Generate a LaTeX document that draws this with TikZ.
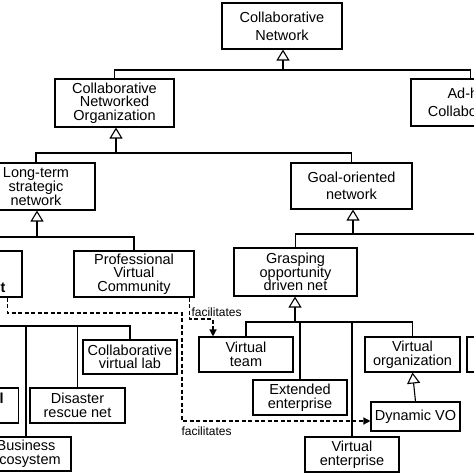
\documentclass[tikz,border=0pt]{standalone}
\usepackage{fontspec}
\setmainfont{Liberation Sans}
\usetikzlibrary{arrows.meta}
\begin{document}
\begin{tikzpicture}[x=1pt,y=-1pt,line width=1.1pt,
	box/.style={draw,align=center,inner sep=0pt,font=\fontsize{14.5}{13.6}\selectfont},
	gen/.style={-{Triangle[open,width=13pt,length=11pt]}},
	fac/.style={dash pattern=on 4pt off 2.5pt,line width=1.3pt,-{Triangle[width=7pt,length=7pt]}},
	lbl/.style={anchor=west,inner sep=0pt,font=\fontsize{12}{12}\selectfont}]% hình ảnh bị cắt ở hai bên
	\useasboundingbox (0,0) rectangle (474,474);
	\clip (0,0) rectangle (474,474);
	% các hộp
	\node[box,minimum width=120pt,minimum height=46pt] (cn) at (282,26) {Collaborative\\[4.5pt]Network};
	\node[box,minimum width=119pt,minimum height=48pt] (cno) at (114.5,103) {Collaborative\\Networked\\Organization};
	\node[box,minimum width=119pt,minimum height=47pt] (adhoc) at (470.5,102.5) {Ad-hoc\\[5pt]Collaboration};
	\node[box,minimum width=118pt,minimum height=47pt] (lts) at (36,186.5) {Long-term\\strategic\\network};
	\node[box,minimum width=121pt,minimum height=46pt] (gon) at (351.5,186) {Goal-oriented\\[3.5pt]network};
	\node[box,minimum width=120pt,minimum height=46pt,font=\fontsize{14.5}{13.6}\selectfont\bfseries] (vbe) at (-38,274) {VO\\breeding\\environment};
	\node[box,minimum width=120pt,minimum height=46pt] (pvc) at (134,274) {Professional\\Virtual\\Community};
	\node[box,minimum width=123pt,minimum height=48pt] (gpd) at (295.5,272) {Grasping\\opportunity\\driven net};
	\node[box,minimum width=95pt,minimum height=35pt,font=\fontsize{14.5}{13.6}\selectfont\bfseries] (ind) at (-29,405.5) {Industrial\\district};
	\node[box,minimum width=95pt,minimum height=35pt] (drn) at (77.5,405.5) {Disaster\\rescue net};
	\node[box,minimum width=94pt,minimum height=34pt] (cvl) at (130,357) {Collaborative\\virtual lab};
	\node[box,minimum width=90pt,minimum height=34pt] (bes) at (26,454) {Business\\ecosystem};
	\node[box,minimum width=94pt,minimum height=35pt] (vt) at (246,354.5) {Virtual\\team};
	\node[box,minimum width=94pt,minimum height=35pt] (ee) at (300,397.5) {Extended\\enterprise};
	\node[box,minimum width=94pt,minimum height=35pt] (ve) at (352,454.5) {Virtual\\enterprise};
	\node[box,minimum width=95pt,minimum height=35pt] (vo) at (412.5,354.5) {Virtual\\organization};
	\node[box,minimum width=89pt,minimum height=29pt] (dvo) at (415.5,416.5) {Dynamic VO};
	\node[box,minimum width=94pt,minimum height=35pt] (sc) at (514,354.5) {};
	% các nhánh
	\coordinate (j0) at (283,70);
	\coordinate (j1) at (116,153);
	\coordinate (j2) at (37,237);
	\coordinate (j3) at (353,234);
	\coordinate (j4) at (295,322);
	\coordinate (j5) at (-38,326);
	\coordinate (cpd) at (560,248);
	\draw[gen] (j0) -- (j0 |- cn.south);
	\draw (cno.north) |- (j0) -| (adhoc.north);
	\draw[gen] (j1) -- (j1 |- cno.south);
	\draw (lts.north) |- (j1) -| (gon.north);
	\draw[gen] (j2) -- (j2 |- lts.south);
	\draw (vbe.north) |- (j2) -| (pvc.north);
	\draw[gen] (j3) -- (j3 |- gon.south);
	\draw (gpd.north) |- (j3) -| (cpd);
	\draw[gen] (j4) -- (j4 |- gpd.south);
	\draw (vt.north) |- (j4) -| (vo.north);
	\draw (ee.north) -- (ee.north |- j4);
	\draw (ve.north) -- (ve.north |- j4);
	\draw[gen] (j5) -- (vbe.south);
	\draw (ind.north) |- (j5) -| (cvl.north);
	\draw (bes.north) -- (bes.north |- j5);
	\draw (drn.north) -- (drn.north |- j5);
	\draw[gen] (dvo.north) -- (vo.south);
	% facilitates
	\coordinate (f1) at (182,313);
	\coordinate (f2) at (213,319);
	\draw[fac] ([xshift=-15pt]vbe.south east) |- (f1) |- ([yshift=-4.5pt]dvo.west);
	\draw[fac] ([xshift=-5pt]pvc.south east) |- (f2) -- (f2 |- vt.north);
	\node[lbl] (t1) at (181,431) {facilitates};
	\node[lbl] (t2) at (191,312) {facilitates};
\end{tikzpicture}
\end{document}
